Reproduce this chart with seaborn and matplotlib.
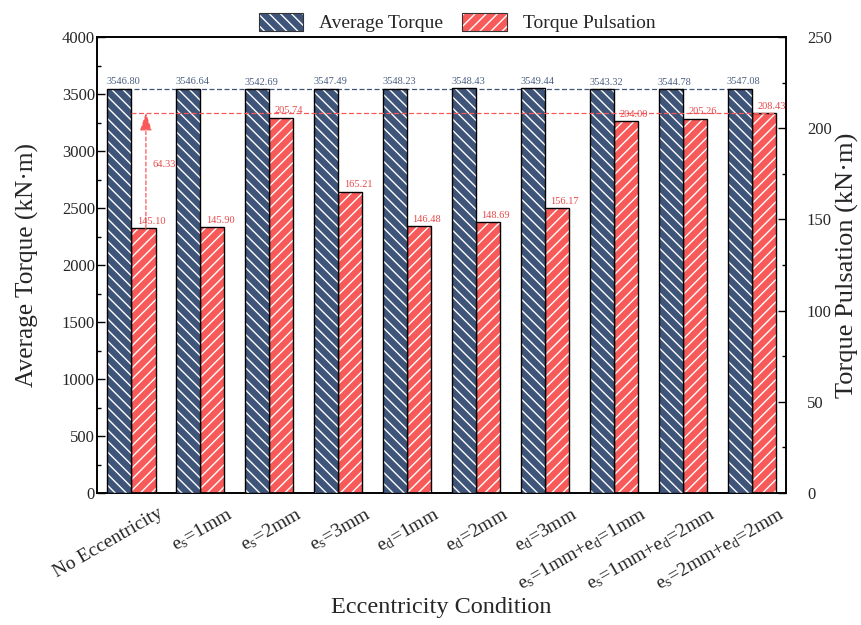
import numpy as np
import pandas as pd
import matplotlib
matplotlib.use("Agg")
import matplotlib.pyplot as plt
import seaborn as sns
from matplotlib.patches import Patch, Rectangle

categories = ["No Eccentricity",
              r"e$_\mathregular{s}$=1mm", r"e$_\mathregular{s}$=2mm", r"e$_\mathregular{s}$=3mm",
              r"e$_\mathregular{d}$=1mm", r"e$_\mathregular{d}$=2mm", r"e$_\mathregular{d}$=3mm",
              r"e$_\mathregular{s}$=1mm+e$_\mathregular{d}$=1mm",
              r"e$_\mathregular{s}$=1mm+e$_\mathregular{d}$=2mm",
              r"e$_\mathregular{s}$=2mm+e$_\mathregular{d}$=2mm"]
avg_torque = [3546.80, 3546.64, 3542.69, 3547.49, 3548.23, 3548.43, 3549.44, 3543.32, 3544.78, 3547.08]
pulsation = [145.10, 145.90, 205.74, 165.21, 146.48, 148.69, 156.17, 204.00, 205.26, 208.43]
series = ["Average Torque", "Torque Pulsation"]
diff_label = "64.33"

sns.set_theme(style="white")
plt.rcParams['font.family'] = ['Liberation Serif', 'DejaVu Serif']
plt.rcParams['mathtext.fontset'] = 'custom'
plt.rcParams['mathtext.rm'] = 'Liberation Serif'
plt.rcParams['mathtext.it'] = 'Liberation Serif:italic'
plt.rcParams['hatch.linewidth'] = 1.0

BLUE = "#3f5479"
RED = "#f85a5a"
BLUE_TXT = "#4a5f82"
RED_TXT = "#e8494a"

LEFT_MAX, RIGHT_MAX = 4000, 250
k = LEFT_MAX / RIGHT_MAX  # right-axis value -> left-axis value

n = len(categories)
idx = list(range(n))
df_avg = pd.DataFrame({"cond": idx * 2, "series": [series[0]] * n + [series[1]] * n,
                       "val": avg_torque + [np.nan] * n})
df_pul = pd.DataFrame({"cond": idx * 2, "series": [series[0]] * n + [series[1]] * n,
                       "val": [np.nan] * n + pulsation})

fig = plt.figure(figsize=(8.62, 6.25), dpi=100)
ax = fig.add_axes([0.1125, 0.2112, 0.7995, 0.7296])
ax2 = ax.twinx()

pal = {series[0]: BLUE, series[1]: RED}
sns.barplot(data=df_pul, x="cond", y="val", hue="series", hue_order=series, palette=pal,
            width=0.7, dodge=True, ax=ax2, legend=False, saturation=1, errorbar=None)
sns.barplot(data=df_avg, x="cond", y="val", hue="series", hue_order=series, palette=pal,
            width=0.7, dodge=True, ax=ax, legend=False, saturation=1, errorbar=None)

def style_bars(a, hatch, zo):
    for p in list(a.patches):
        h = p.get_height()
        if h is None or np.isnan(h) or h == 0:
            continue
        p.set_edgecolor("white")
        p.set_hatch(hatch)
        p.set_linewidth(0)
        p.set_zorder(zo)
        a.add_patch(Rectangle(p.get_xy(), p.get_width(), h, fill=False,
                              edgecolor="black", linewidth=1.0, zorder=zo + 0.1))

style_bars(ax, "\\\\\\", 3)
style_bars(ax2, "///", 3)

bw = 0.35
# reference lines
ax.plot([0 - bw / 2, (n - 1) - bw / 2], [avg_torque[0]] * 2, ls=(0, (4, 2)), color=BLUE,
        lw=0.9, zorder=1)
ax.plot([0, (n - 1) + bw], [pulsation[-1] * k] * 2, ls=(0, (4, 2)), color=RED,
        lw=0.9, zorder=5)
ax.annotate("", xy=(0.21, pulsation[-1] * k), xytext=(0.21, pulsation[0] * k),
            arrowprops=dict(arrowstyle="-|>,head_length=0.9,head_width=0.3", color=RED, lw=0.9,
                            ls=(0, (3, 2)), mutation_scale=12, shrinkA=0, shrinkB=0), zorder=5)
ax.text(0.3, 180 * k, diff_label, fontsize=7.5, color=RED_TXT,
        ha="left", va="center", zorder=6)

# value labels
for i in range(n):
    ax.text(i - bw - 0.01, avg_torque[i] + 20, f"{avg_torque[i]:.2f}", ha="left", va="bottom",
            fontsize=7.5, color=BLUE_TXT, zorder=6)
    ax.text(i + 0.08, pulsation[i] * k + 20, f"{pulsation[i]:.2f}", ha="left", va="bottom",
            fontsize=7.5, color=RED_TXT, zorder=6)

ax.set_xlim(-0.5, n - 0.5)
ax.set_ylim(0, LEFT_MAX)
ax2.set_ylim(0, RIGHT_MAX)
ax.set_yticks(np.arange(0, 4001, 500))
ax.set_yticks(np.arange(250, 4000, 500), minor=True)
ax2.set_yticks(np.arange(0, 251, 50))
ax2.set_yticks(np.arange(25, 250, 50), minor=True)
ax.set_xticks([i + 0.38 for i in idx])
ax.set_xticklabels(categories, rotation=30, ha="right", rotation_mode="anchor", fontsize=14)
ax.tick_params(axis="x", length=0, pad=8)
for a, pad in ((ax, 1.5), (ax2, 15)):
    a.tick_params(axis="y", which="major", direction="in", length=6, width=1, labelsize=12,
                  color="black", pad=pad)
    a.tick_params(axis="y", which="minor", direction="in", length=3, width=1, color="black")
ax.set_xlabel("Eccentricity Condition", fontsize=17.5, labelpad=2)
ax.set_ylabel("Average Torque (kN·m)", fontsize=18.3, labelpad=16)
ax2.set_ylabel("Torque Pulsation (kN·m)", fontsize=19, labelpad=3)
for a in (ax, ax2):
    for s in a.spines.values():
        s.set_color("black")
        s.set_linewidth(1.2)
ax.set_zorder(ax2.get_zorder() + 1)
ax.patch.set_visible(False)

handles = [Patch(facecolor=BLUE, edgecolor="#333333", hatch="\\\\\\", linewidth=0.8),
           Patch(facecolor=RED, edgecolor="#333333", hatch="///", linewidth=0.8)]
leg = fig.legend(handles, series, loc="center", bbox_to_anchor=(0.53, 0.964), ncol=2,
                 frameon=False, fontsize=14, handlelength=2.3, handleheight=1.1,
                 columnspacing=1.0, handletextpad=0.8)
for p in leg.get_patches():
    p._hatch_color = (1, 1, 1, 1)

fig.savefig("out.png", dpi=100)
